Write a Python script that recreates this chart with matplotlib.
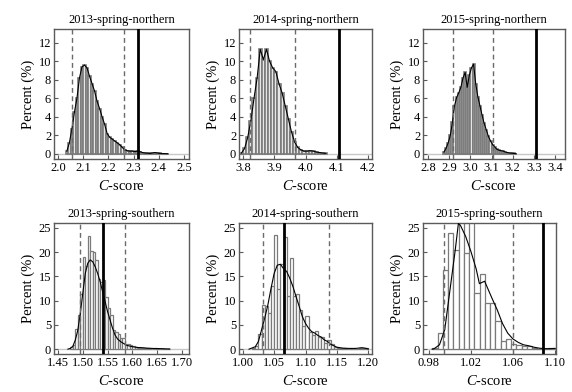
import numpy as np
import matplotlib
matplotlib.use('Agg')
import matplotlib.pyplot as plt

plt.rcParams['font.family'] = ['Liberation Serif', 'DejaVu Serif']
plt.rcParams['mathtext.fontset'] = 'custom'
plt.rcParams['mathtext.rm'] = 'Liberation Serif'
plt.rcParams['mathtext.it'] = 'Liberation Serif:italic'

titles = ['2013-spring-northern', '2014-spring-northern', '2015-spring-northern',
          '2013-spring-southern', '2014-spring-southern', '2015-spring-southern']

# ---- histogram data: first bin left edge, bin width, percentages ----
n13_start, n13_width = 2.03, 0.01
n13_pct = [0.3, 1.2, 2.7, 4.5, 6.0, 8.2, 9.4, 9.6, 9.3, 8.4, 7.6, 6.8, 5.7, 4.9, 4.0, 3.2,
           2.2, 1.8, 1.6, 1.4, 1.2, 1.0, 0.7, 0.45, 0.35, 0.3, 0.3, 0.25, 0.3, 0.25, 0.15,
           0.1, 0.08, 0.05, 0.1, 0.15, 0.1, 0.05, 0.04, 0.03, 0.02]

n14_start, n14_width = 3.79, 0.01
n14_pct = [0.1, 0.6, 1.8, 3.6, 6.0, 8.2, 11.3, 10.2, 11.3, 10.0, 9.3, 8.9, 7.6, 6.6, 5.2,
           3.8, 2.4, 1.3, 0.7, 0.45, 0.3, 0.3, 0.35, 0.3, 0.2, 0.15, 0.1, 0.05]

n15_start, n15_width = 2.87, 0.01
n15_pct = [0.2, 0.6, 1.2, 2.0, 3.4, 5.2, 6.1, 6.6, 7.2, 8.2, 8.8, 7.2, 8.5, 9.3, 9.7, 7.6,
           6.2, 5.2, 4.2, 3.3, 2.6, 1.9, 1.4, 1.0, 0.75, 0.5, 0.4, 0.35, 0.3, 0.2, 0.15,
           0.1, 0.08, 0.05, 0.03]

s13_start, s13_width = 1.475, 0.005
s13_pct = [0.5, 0.9, 4.1, 7.0, 11.4, 18.9, 17.2, 23.3, 20.2, 20.0, 18.3, 14.5, 13.8, 14.2,
           10.8, 8.4, 7.0, 4.0, 3.6, 3.2, 2.2, 2.2, 0.8, 1.0, 0.8, 0.6, 0.5, 0.3, 0.3, 0.2,
           0.2, 0.15, 0.1, 0.1, 0.15, 0.1, 0.1, 0.1, 0.1, 0.05]

s14_start, s14_width = 1.015, 0.005
s14_pct = [0.2, 0.6, 3.2, 9.1, 8.9, 7.4, 13.0, 23.6, 12.5, 17.5, 23.1, 11.0, 18.7, 11.0,
           11.4, 8.0, 4.7, 6.8, 3.6, 2.9, 3.8, 2.6, 2.6, 1.2, 1.9, 1.1, 0.5, 0.3, 0.2, 0.15,
           0.1, 0.1, 0.1, 0.1, 0.2, 0.3, 0.2]

s15_start, s15_width = 0.9832, 0.005
s15_pct = [0.2, 3.4, 16.4, 24.0, 20.4, 27.5, 19.8, 27.5, 11.6, 15.4, 9.5, 9.6, 5.8, 1.6,
           2.1, 1.1, 0.9, 0.75, 0.55, 0.2, 0.1, 0.1, 0.15, 0.3]

# ---- smoothed density curves for the southern panels ----
s13_curve_x = [1.47, 1.475, 1.48, 1.485, 1.49, 1.495, 1.50, 1.505, 1.51, 1.515, 1.52, 1.525,
               1.53, 1.535, 1.54, 1.545, 1.55, 1.555, 1.56, 1.565, 1.57, 1.575, 1.58, 1.585,
               1.59, 1.60, 1.61, 1.62, 1.63, 1.64, 1.65, 1.66, 1.67, 1.675]
s13_curve_y = [0, 0.15, 0.6, 1.9, 3.9, 7.4, 11.5, 15.6, 17.7, 18.4, 18.0, 17.0, 15.6, 13.9,
               11.8, 9.8, 7.7, 6.0, 4.3, 2.9, 2.1, 1.65, 1.3, 1.0, 0.75, 0.5, 0.35, 0.3, 0.2,
               0.15, 0.12, 0.1, 0.05, 0.05]

s14_curve_x = [1.01, 1.02, 1.025, 1.03, 1.035, 1.04, 1.045, 1.05, 1.055, 1.06, 1.065, 1.07,
               1.075, 1.08, 1.085, 1.09, 1.095, 1.10, 1.105, 1.11, 1.115, 1.12, 1.125, 1.13,
               1.135, 1.14, 1.145, 1.15, 1.16, 1.17, 1.18, 1.19, 1.195, 1.20]
s14_curve_y = [0, 0.5, 1.6, 4.0, 6.4, 9.1, 12.5, 15.6, 17.3, 17.5, 16.6, 16.0, 14.6, 12.9,
               10.8, 8.8, 6.7, 5.3, 4.3, 3.6, 3.3, 2.8, 2.5, 1.9, 1.6, 1.0, 0.7, 0.4, 0.2,
               0.15, 0.15, 0.3, 0.2, 0.05]

s15_curve_x = [0.983, 0.985, 0.99, 0.995, 1.0, 1.005, 1.008, 1.01, 1.015, 1.02, 1.025, 1.028,
               1.033, 1.038, 1.04, 1.045, 1.05, 1.055, 1.06, 1.065, 1.07, 1.075, 1.08, 1.085,
               1.09, 1.095, 1.10]
s15_curve_y = [0, 0.1, 0.9, 4.0, 12.2, 20.4, 25.9, 25.5, 23.2, 20.1, 16.5, 13.5, 14.0, 11.5,
               10.5, 8.1, 5.3, 3.3, 2.1, 1.4, 0.9, 0.7, 0.4, 0.2, 0.1, 0.1, 0.15]

# ---- reference lines: dashed (confidence limits) and observed value ----
dashed_lines = [(2.054, 2.262), (3.821, 3.967), (2.919, 3.108),
                (1.494, 1.585), (1.033, 1.137), (0.9943, 1.0596)]
observed = [2.316, 4.107, 3.312, 1.541, 1.0665, 1.089]

# ---- axis ticks ----
xticks = [[2.0, 2.1, 2.2, 2.3, 2.4, 2.5], [3.8, 3.9, 4.0, 4.1, 4.2],
          [2.8, 2.9, 3.0, 3.1, 3.2, 3.3, 3.4],
          [1.45, 1.50, 1.55, 1.60, 1.65, 1.70], [1.00, 1.05, 1.10, 1.15, 1.20],
          [0.98, 1.02, 1.06, 1.10]]
xtick_fmt = ['%.1f', '%.1f', '%.1f', '%.2f', '%.2f', '%.2f']
xlims = [(1.984, 2.52), (3.787, 4.213), (2.776, 3.447),
         (1.442, 1.714), (0.994, 1.206), (0.9743, 1.101)]
yticks_top = [0, 2, 4, 6, 8, 10, 12]
yticks_bot = [0, 5, 10, 15, 20, 25]

hists = [(n13_start, n13_width, n13_pct), (n14_start, n14_width, n14_pct),
         (n15_start, n15_width, n15_pct), (s13_start, s13_width, s13_pct),
         (s14_start, s14_width, s14_pct), (s15_start, s15_width, s15_pct)]
curves = [None, None, None, (s13_curve_x, s13_curve_y), (s14_curve_x, s14_curve_y),
          (s15_curve_x, s15_curve_y)]

W, H = 572, 392
fig = plt.figure(figsize=(W / 100, H / 100), dpi=100)

# axes rectangles in pixels: left, top, right, bottom
rects_px = [(54, 29, 189, 159), (239, 29, 372, 159), (423, 29, 565, 159),
            (54, 223, 189, 354), (239, 223, 372, 354), (423, 223, 556, 354)]

spine_col = '#5a5a5a'
for i in range(6):
    l, t, r, b = rects_px[i]
    ax = fig.add_axes([l / W, 1 - b / H, (r - l) / W, (b - t) / H])
    start, width, pct = hists[i]
    edges = start + width * np.arange(len(pct))
    ax.axhline(0, color='#c8c8c8', lw=1.0, zorder=1)
    top = i < 3
    ax.bar(edges, pct, width=width, align='edge',
           facecolor='#e6e6e6' if top else 'white',
           edgecolor='#7a7a7a', linewidth=1.2 if top else 0.9, zorder=2)
    if curves[i] is None:
        ax.plot(edges + width / 2, pct, color='black', lw=0.8, zorder=3)
    else:
        ax.plot(curves[i][0], curves[i][1], color='black', lw=0.8, zorder=3)
    for xv in dashed_lines[i]:
        ax.axvline(xv, color='#6a6a6a', lw=1.0, ls=(0, (3.5, 2.5)), zorder=4)
    ax.axvline(observed[i], color='black', lw=2.0, zorder=5)

    ax.set_xlim(*xlims[i])
    if top:
        ax.set_ylim(-0.55, 13.5)
        ax.set_yticks(yticks_top)
        ax.set_yticklabels([str(v) for v in yticks_top])
    else:
        ax.set_ylim(-1.0, 26.0)
        ax.set_yticks(yticks_bot)
        ax.set_yticklabels([str(v) for v in yticks_bot])
    ax.set_xticks(xticks[i])
    ax.set_xticklabels([xtick_fmt[i] % v for v in xticks[i]])
    ax.tick_params(direction='in', length=3, width=0.8, color=spine_col,
                   labelsize=9, pad=2)
    for s in ax.spines.values():
        s.set_color(spine_col)
        s.set_linewidth(1.0)
    ax.set_title(titles[i], fontsize=9, pad=4)
    ax.set_xlabel(r'$\mathit{C}$-score', fontsize=10.5, labelpad=4)
    ax.set_ylabel('Percent (%)', fontsize=10.5, labelpad=3)

fig.savefig('out.png', dpi=100)
